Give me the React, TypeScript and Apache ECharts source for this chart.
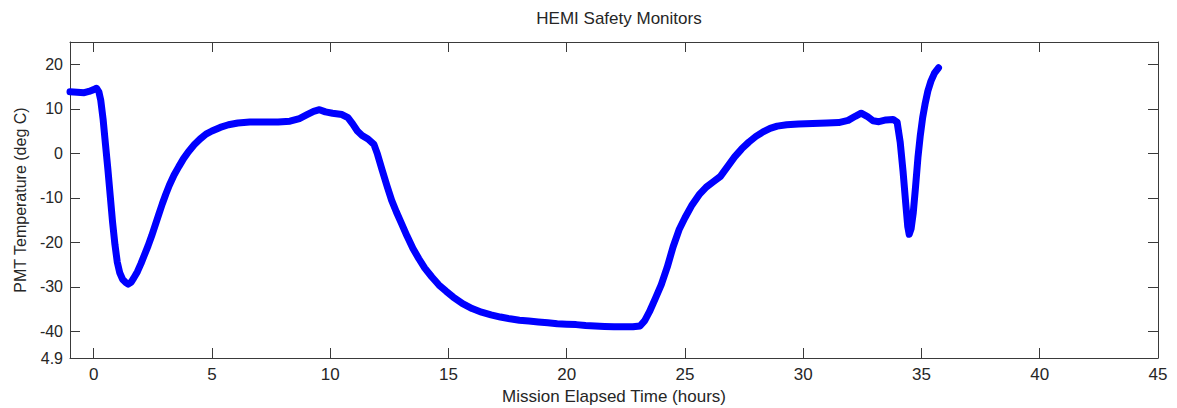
import React, { useEffect, useRef } from "react";
import * as echarts from "echarts";

const titleText = "HEMI Safety Monitors";
const xName = "Mission Elapsed Time (hours)";
const yName = "PMT Temperature (deg C)";

const xTicks = [0, 5, 10, 15, 20, 25, 30, 35, 40, 45];
const yTicks = [-40, -30, -20, -10, 0, 10, 20];
const yLabelValues = [-46, -40, -30, -20, -10, 0, 10, 20];
const yMinLabel = "4.9";

const timeHours = [
  -1.0, -0.7, -0.4, -0.2, 0.0, 0.12, 0.22, 0.3, 0.4, 0.5, 0.6, 0.7, 0.8, 0.9,
  1.0, 1.1, 1.22, 1.35, 1.46, 1.58, 1.7, 1.85, 2.0, 2.15, 2.3, 2.45, 2.6, 2.75,
  2.9, 3.05, 3.2, 3.4, 3.6, 3.8, 4.0, 4.25, 4.5, 4.75, 5.0, 5.35, 5.7, 6.1, 6.6,
  7.2, 7.8, 8.3, 8.7, 9.0, 9.3, 9.55, 9.8, 10.1, 10.5, 10.75, 10.95, 11.15,
  11.35, 11.6, 11.85, 12.0, 12.2, 12.4, 12.6, 12.8, 13.0, 13.25, 13.5, 13.75,
  14.0, 14.3, 14.6, 14.9, 15.2, 15.6, 16.0, 16.4, 16.8, 17.2, 17.6, 18.0, 18.4,
  18.8, 19.2, 19.6, 20.0, 20.4, 20.8, 21.2, 21.6, 22.0, 22.4, 22.8, 23.1, 23.3,
  23.5, 23.75, 24.0, 24.25, 24.5, 24.75, 25.0, 25.3, 25.6, 25.9, 26.2, 26.5,
  26.8, 27.1, 27.4, 27.7, 28.0, 28.3, 28.6, 28.9, 29.3, 29.8, 30.4, 31.0, 31.5,
  31.9, 32.2, 32.45, 32.7, 32.95, 33.2, 33.5, 33.8, 33.97, 34.1, 34.22, 34.33,
  34.42, 34.48, 34.56, 34.65, 34.75, 34.85, 34.95, 35.05, 35.15, 35.27, 35.4,
  35.55, 35.72,
];

const pmtTemp = [
  13.8, 13.7, 13.6, 13.9, 14.3, 14.6, 13.8, 11.9, 7.6, 2.0, -3.5, -9.5, -15.5,
  -20.5, -24.5, -26.8, -28.3, -29.0, -29.4, -29.0, -28.0, -26.6, -24.8, -22.8,
  -20.8, -18.6, -16.2, -13.8, -11.4, -9.2, -7.2, -4.9, -3.0, -1.2, 0.3, 1.9,
  3.2, 4.3, 5.0, 5.8, 6.4, 6.8, 7.0, 7.0, 7.0, 7.2, 7.8, 8.6, 9.4, 9.8, 9.3,
  9.0, 8.7, 8.0, 6.6, 5.0, 4.0, 3.2, 2.0, -0.2, -3.8, -7.3, -10.6, -13.2,
  -15.6, -18.6, -21.4, -23.7, -25.8, -27.8, -29.6, -31.0, -32.3, -33.8, -34.9,
  -35.7, -36.3, -36.8, -37.2, -37.5, -37.7, -37.9, -38.1, -38.3, -38.4, -38.5,
  -38.7, -38.8, -38.9, -39.0, -39.0, -39.0, -38.8, -37.6, -35.6, -32.6, -29.5,
  -25.6, -21.0, -17.2, -14.5, -11.6, -9.3, -7.6, -6.4, -5.2, -3.0, -0.8, 1.0,
  2.5, 3.8, 4.8, 5.6, 6.1, 6.4, 6.6, 6.7, 6.8, 6.9, 7.4, 8.3, 9.0, 8.3, 7.3,
  7.1, 7.5, 7.6, 7.0, 2.5, -4.0, -11.0, -16.5, -18.2, -17.0, -13.5, -7.5, -1.0,
  4.0, 8.0, 11.0, 14.0, 16.2, 18.0, 19.2,
];

const FONT = "'Liberation Sans', Arial, sans-serif";
const TXT = "#262626";
const AX = "#3a3a3a";

export default function App() {
  const ref = useRef<HTMLDivElement>(null);
  useEffect(() => {
    if (!ref.current) return;
    const chart = echarts.init(ref.current, null, { renderer: "svg" });
    const data = timeHours.map((t, i) => [t, pmtTemp[i]]);
    const axLine = { show: true, onZero: false, lineStyle: { color: AX, width: 1 } };
    const tick = { show: true, inside: true, length: 10, lineStyle: { color: AX, width: 1 } };
    chart.setOption({
      animation: false,
      backgroundColor: "#ffffff",
      title: {
        text: titleText,
        left: 614,
        top: 5,
        textAlign: "center",
        textStyle: { fontFamily: FONT, fontSize: 17, fontWeight: "normal", color: TXT },
      },
      grid: {
        left: 70,
        right: 19,
        top: 42,
        bottom: 50,
        containLabel: false,
        outerBoundsMode: "none",
      },
      xAxis: [
        {
          type: "value",
          min: -1,
          max: 45,
          position: "bottom",
          name: xName,
          nameLocation: "middle",
          nameGap: 30,
          nameTextStyle: { fontFamily: FONT, fontSize: 17, color: TXT },
          axisLine: axLine,
          axisTick: { ...tick, customValues: xTicks },
          axisLabel: {
            customValues: xTicks,
            margin: 8,
            fontFamily: FONT,
            fontSize: 17,
            color: TXT,
          },
          splitLine: { show: false },
        },
        {
          type: "value",
          min: -1,
          max: 45,
          position: "top",
          axisLine: axLine,
          axisTick: { ...tick, customValues: xTicks },
          axisLabel: { show: false },
          splitLine: { show: false },
        },
      ],
      yAxis: [
        {
          type: "value",
          min: -46,
          max: 25,
          position: "left",
          name: yName,
          nameLocation: "middle",
          nameGap: 42,
          nameRotate: 90,
          nameTextStyle: { fontFamily: FONT, fontSize: 16, color: TXT },
          axisLine: axLine,
          axisTick: { ...tick, customValues: yTicks },
          axisLabel: {
            customValues: yLabelValues,
            margin: 7,
            fontFamily: FONT,
            fontSize: 16,
            color: TXT,
            formatter: (v: number) => (v === -46 ? yMinLabel : String(v)),
          },
          splitLine: { show: false },
        },
        {
          type: "value",
          min: -46,
          max: 25,
          position: "right",
          axisLine: axLine,
          axisTick: { ...tick, customValues: yTicks },
          axisLabel: { show: false },
          splitLine: { show: false },
        },
      ],
      series: [
        {
          type: "line",
          data,
          xAxisIndex: 0,
          yAxisIndex: 0,
          showSymbol: false,
          symbol: "none",
          smooth: false,
          lineStyle: { color: "#0000ff", width: 7, cap: "round", join: "round" },
        },
      ],
    });
    return () => chart.dispose();
  }, []);
  return (
    <div
      ref={ref}
      style={{ position: "fixed", left: 0, top: 0, width: 1177, height: 408 }}
    />
  );
}
